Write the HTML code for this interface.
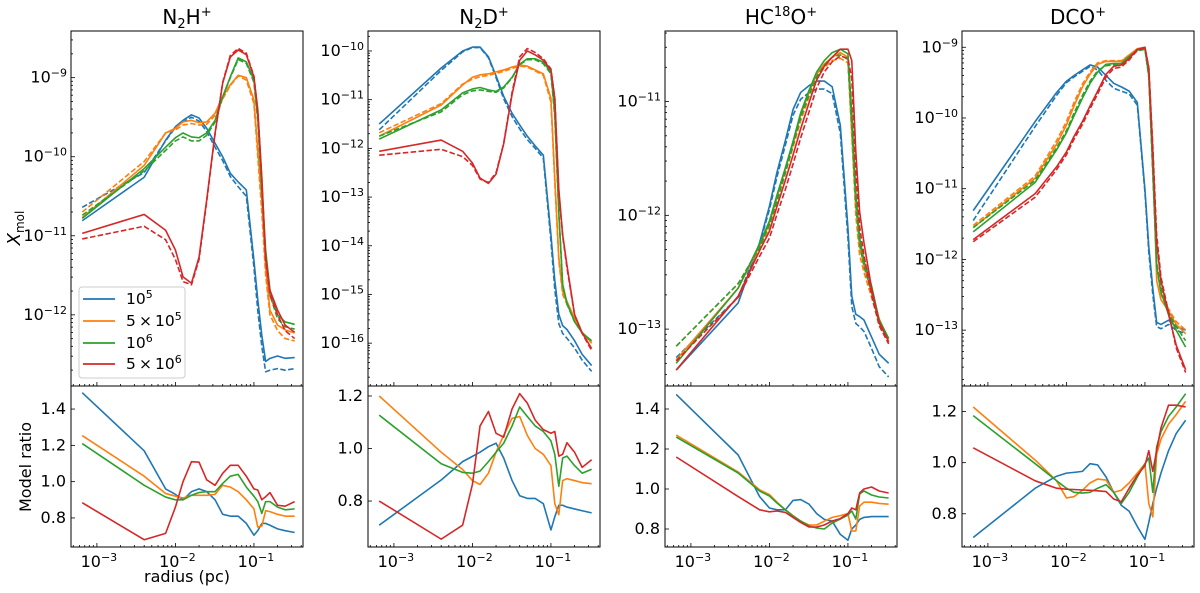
<!DOCTYPE html>
<html><head><meta charset="utf-8"><style>
html,body{margin:0;padding:0;background:#fff;}
svg{display:block;font-family:"DejaVu Sans","Liberation Sans",sans-serif;}
</style></head><body>
<svg id="chart" width="1200" height="593" viewBox="0 0 1200 593" xmlns="http://www.w3.org/2000/svg"></svg>
<script>
// ---- shared radius grid (pc) ----
const radius = [0.00065,0.004,0.0075,0.01,0.0125,0.016,0.02,0.025,0.032,0.04,0.05,0.063,0.08,0.1,0.112,0.126,0.141,0.16,0.2,0.25,0.33];
const seriesLabels = ["1e5","5e5","1e6","5e6"];
const seriesColors = ["#1f77b4","#ff7f0e","#2ca02c","#d62728"];
const panelTitles = ["N2H+","N2D+","HC18O+","DCO+"];

// ---- N2H+ (log10 X_mol) ----
const n2h_solid_1e5 = [-10.81,-10.26,-9.79,-9.62,-9.54,-9.47,-9.51,-9.64,-9.83,-10.0,-10.21,-10.32,-10.42,-11.31,-11.81,-12.26,-12.59,-12.55,-12.52,-12.55,-12.54];
const n2h_solid_5e5 = [-10.77,-10.11,-9.70,-9.64,-9.56,-9.54,-9.57,-9.56,-9.45,-9.24,-9.09,-8.97,-9.0,-9.28,-9.92,-10.55,-11.40,-11.94,-12.13,-12.19,-12.23];
const n2h_solid_1e6 = [-10.78,-10.15,-9.88,-9.76,-9.70,-9.75,-9.76,-9.70,-9.54,-9.24,-8.99,-8.75,-8.80,-9.03,-9.50,-10.38,-11.18,-11.69,-12.0,-12.09,-12.12];
const n2h_solid_5e6 = [-10.97,-10.73,-10.93,-11.18,-11.52,-11.60,-11.27,-10.55,-9.70,-9.07,-8.74,-8.65,-8.71,-8.99,-9.41,-10.26,-11.27,-11.69,-11.94,-12.13,-12.22];
const n2h_dash_1e5 = [-10.64,-10.20,-9.80,-9.63,-9.56,-9.50,-9.55,-9.68,-9.88,-10.05,-10.25,-10.38,-10.50,-11.40,-11.95,-12.40,-12.72,-12.70,-12.68,-12.70,-12.68];
const n2h_dash_5e5 = [-10.70,-10.06,-9.70,-9.66,-9.60,-9.58,-9.60,-9.59,-9.48,-9.27,-9.10,-8.98,-9.03,-9.33,-10.0,-10.7,-11.5,-12.0,-12.2,-12.3,-12.33];
const n2h_dash_1e6 = [-10.74,-10.18,-9.92,-9.80,-9.75,-9.80,-9.80,-9.73,-9.56,-9.25,-9.0,-8.77,-8.82,-9.06,-9.55,-10.45,-11.25,-11.75,-12.05,-12.15,-12.18];
const n2h_dash_5e6 = [-11.04,-10.88,-11.05,-11.30,-11.58,-11.62,-11.30,-10.57,-9.71,-9.06,-8.72,-8.63,-8.69,-8.98,-9.42,-10.3,-11.3,-11.75,-12.0,-12.2,-12.3];
const n2h_ratio_1e5 = [1.49,1.17,0.96,0.93,0.90,0.945,0.96,0.945,0.90,0.82,0.81,0.81,0.77,0.705,0.73,0.77,0.77,0.76,0.74,0.73,0.72];
const n2h_ratio_5e5 = [1.254,1.03,0.935,0.92,0.91,0.925,0.925,0.925,0.93,0.98,0.97,0.945,0.90,0.85,0.75,0.755,0.84,0.835,0.82,0.81,0.81];
const n2h_ratio_1e6 = [1.21,0.98,0.915,0.90,0.90,0.925,0.94,0.945,0.945,0.99,1.03,1.04,0.97,0.92,0.89,0.825,0.89,0.89,0.86,0.845,0.85];
const n2h_ratio_5e6 = [0.884,0.68,0.715,0.86,1.0,1.11,1.107,1.01,0.98,1.046,1.09,1.09,1.03,0.96,0.954,0.90,0.917,0.94,0.87,0.865,0.89];

// ---- N2D+ ----
const n2d_solid_1e5 = [-11.50,-10.35,-10.0,-9.92,-9.92,-10.12,-10.51,-10.93,-11.28,-11.52,-11.75,-11.95,-12.14,-13.77,-14.71,-15.41,-15.64,-15.72,-15.95,-16.23,-16.46];
const n2d_solid_5e5 = [-11.75,-11.11,-10.70,-10.54,-10.49,-10.47,-10.43,-10.39,-10.33,-10.29,-10.31,-10.39,-10.47,-10.97,-12.61,-14.24,-14.94,-15.14,-15.49,-15.78,-15.99];
const n2d_solid_1e6 = [-11.81,-11.21,-10.86,-10.78,-10.75,-10.80,-10.83,-10.74,-10.54,-10.27,-10.16,-10.16,-10.23,-10.43,-11.28,-13.31,-14.79,-15.18,-15.56,-15.79,-15.95];
const n2d_solid_5e6 = [-12.06,-11.83,-12.06,-12.30,-12.61,-12.72,-12.53,-11.91,-10.89,-10.19,-10.0,-10.08,-10.19,-10.39,-10.97,-12.84,-13.77,-14.40,-15.41,-15.79,-16.11];
const n2d_dash_1e5 = [-11.62,-10.40,-10.02,-9.93,-9.93,-10.14,-10.55,-10.98,-11.35,-11.60,-11.82,-12.0,-12.2,-13.9,-14.9,-15.6,-15.8,-15.9,-16.1,-16.35,-16.58];
const n2d_dash_5e5 = [-11.68,-11.08,-10.68,-10.58,-10.53,-10.50,-10.46,-10.42,-10.36,-10.31,-10.33,-10.41,-10.5,-11.05,-12.7,-14.3,-15.0,-15.2,-15.5,-15.8,-16.0];
const n2d_dash_1e6 = [-11.75,-11.25,-10.9,-10.82,-10.8,-10.83,-10.85,-10.76,-10.55,-10.28,-10.18,-10.18,-10.26,-10.47,-11.35,-13.35,-14.8,-15.2,-15.56,-15.79,-15.96];
const n2d_dash_5e6 = [-12.14,-12.02,-12.17,-12.35,-12.63,-12.7,-12.5,-11.9,-10.85,-10.12,-9.95,-10.03,-10.16,-10.37,-10.97,-12.9,-13.8,-14.45,-15.42,-15.8,-16.15];
const n2d_ratio_1e5 = [0.708,0.88,0.95,0.97,0.986,1.007,1.02,0.964,0.878,0.82,0.81,0.81,0.79,0.69,0.74,0.784,0.784,0.777,0.77,0.763,0.755];
const n2d_ratio_5e5 = [1.2,0.986,0.92,0.878,0.863,0.906,0.986,1.05,1.115,1.122,1.05,1.0,0.978,0.935,0.79,0.748,0.878,0.885,0.878,0.87,0.866];
const n2d_ratio_1e6 = [1.127,0.942,0.909,0.906,0.914,0.95,0.986,1.02,1.086,1.158,1.122,1.086,1.065,1.029,0.978,0.856,0.964,0.971,0.935,0.906,0.921];
const n2d_ratio_5e6 = [0.80,0.655,0.708,0.863,1.086,1.141,1.058,1.043,1.151,1.209,1.173,1.108,1.072,1.058,1.065,0.971,0.978,1.022,0.986,0.928,0.957];

// ---- HC18O+ ----
const hco_solid_1e5 = [-13.36,-12.77,-12.24,-11.92,-11.62,-11.34,-11.07,-10.92,-10.86,-10.82,-10.82,-10.87,-11.21,-12.11,-12.71,-12.87,-12.89,-12.92,-13.07,-13.22,-13.30];
const hco_solid_5e5 = [-13.27,-12.64,-12.27,-12.07,-11.84,-11.59,-11.37,-11.12,-10.92,-10.76,-10.67,-10.61,-10.57,-10.61,-11.27,-11.91,-12.27,-12.44,-12.67,-12.91,-13.09];
const hco_solid_1e6 = [-13.3,-12.64,-12.25,-12.05,-11.82,-11.58,-11.35,-11.10,-10.90,-10.74,-10.64,-10.57,-10.54,-10.58,-11.1,-11.8,-12.2,-12.4,-12.62,-12.92,-13.08];
const hco_solid_5e6 = [-13.36,-12.71,-12.31,-12.14,-11.92,-11.69,-11.47,-11.24,-11.01,-10.81,-10.69,-10.61,-10.54,-10.54,-10.64,-11.44,-11.97,-12.24,-12.64,-12.94,-13.11];
const hco_dash_1e5 = [-13.25,-12.72,-12.25,-11.95,-11.66,-11.38,-11.12,-10.98,-10.92,-10.89,-10.89,-10.93,-11.28,-12.2,-12.8,-12.95,-12.98,-13.02,-13.17,-13.33,-13.42];
const hco_dash_5e5 = [-13.15,-12.6,-12.3,-12.1,-11.88,-11.63,-11.40,-11.17,-10.96,-10.80,-10.70,-10.64,-10.62,-10.66,-11.3,-12.0,-12.35,-12.5,-12.72,-12.95,-13.12];
const hco_dash_1e6 = [-13.15,-12.6,-12.28,-12.08,-11.87,-11.62,-11.38,-11.14,-10.94,-10.78,-10.68,-10.61,-10.59,-10.63,-11.2,-11.9,-12.25,-12.45,-12.68,-12.95,-13.1];
const hco_dash_5e6 = [-13.28,-12.72,-12.36,-12.2,-11.99,-11.77,-11.55,-11.32,-11.09,-10.88,-10.74,-10.65,-10.6,-10.62,-10.8,-11.6,-12.1,-12.35,-12.7,-12.97,-13.13];
const hco_ratio_1e5 = [1.473,1.17,0.962,0.905,0.896,0.896,0.943,0.947,0.924,0.877,0.848,0.839,0.773,0.744,0.80,0.82,0.848,0.858,0.862,0.862,0.862];
const hco_ratio_5e5 = [1.27,1.085,0.996,0.972,0.934,0.896,0.867,0.839,0.82,0.82,0.839,0.858,0.867,0.877,0.79,0.79,0.915,0.934,0.934,0.928,0.924];
const hco_ratio_1e6 = [1.26,1.08,0.99,0.965,0.93,0.895,0.865,0.84,0.815,0.805,0.80,0.83,0.85,0.87,0.89,0.85,0.975,0.99,0.97,0.96,0.955];
const hco_ratio_5e6 = [1.16,0.962,0.896,0.886,0.89,0.883,0.858,0.833,0.81,0.81,0.82,0.84,0.852,0.877,0.905,0.896,0.98,1.0,1.01,0.99,0.98];

// ---- DCO+ ----
const dco_solid_1e5 = [-11.31,-10.05,-9.64,-9.48,-9.40,-9.32,-9.25,-9.28,-9.40,-9.51,-9.56,-9.62,-9.78,-11.01,-11.82,-12.41,-12.89,-12.92,-12.86,-12.95,-13.0];
const dco_solid_5e5 = [-11.55,-10.85,-10.37,-10.10,-9.83,-9.56,-9.38,-9.24,-9.2,-9.2,-9.2,-9.11,-9.02,-9.0,-9.30,-10.48,-12.30,-12.57,-12.73,-12.92,-13.05];
const dco_solid_1e6 = [-11.61,-10.91,-10.45,-10.21,-9.97,-9.72,-9.51,-9.35,-9.24,-9.23,-9.23,-9.13,-9.04,-9.02,-9.40,-10.74,-12.09,-12.46,-12.78,-13.0,-13.24];
const dco_solid_5e6 = [-11.72,-11.07,-10.69,-10.48,-10.26,-10.05,-9.83,-9.62,-9.38,-9.27,-9.25,-9.16,-9.03,-9.0,-9.30,-10.48,-11.76,-12.30,-12.78,-13.21,-13.56];
const dco_dash_1e5 = [-11.45,-10.12,-9.68,-9.5,-9.42,-9.34,-9.27,-9.32,-9.47,-9.58,-9.62,-9.66,-9.82,-11.05,-11.9,-12.5,-12.95,-12.98,-12.92,-13.0,-13.05];
const dco_dash_5e5 = [-11.52,-10.82,-10.32,-10.05,-9.78,-9.52,-9.35,-9.22,-9.19,-9.19,-9.19,-9.11,-9.03,-9.01,-9.35,-10.6,-12.1,-12.5,-12.7,-12.88,-13.0];
const dco_dash_1e6 = [-11.55,-10.88,-10.42,-10.18,-9.93,-9.68,-9.48,-9.33,-9.26,-9.25,-9.25,-9.15,-9.05,-9.03,-9.42,-10.8,-12.05,-12.4,-12.75,-12.95,-13.15];
const dco_dash_5e6 = [-11.75,-11.12,-10.73,-10.52,-10.3,-10.09,-9.87,-9.66,-9.42,-9.3,-9.28,-9.18,-9.04,-9.01,-9.28,-10.4,-11.65,-12.25,-12.75,-13.25,-13.6];
const dco_ratio_1e5 = [0.707,0.90,0.947,0.959,0.962,0.966,0.996,0.991,0.944,0.884,0.833,0.81,0.75,0.70,0.766,0.84,0.90,0.959,1.047,1.114,1.166];
const dco_ratio_5e5 = [1.218,1.01,0.929,0.862,0.867,0.892,0.921,0.936,0.932,0.884,0.892,0.921,0.959,0.996,0.84,0.788,1.033,1.092,1.151,1.188,1.24];
const dco_ratio_1e6 = [1.184,0.996,0.929,0.9,0.884,0.881,0.884,0.90,0.914,0.884,0.84,0.884,0.944,0.996,1.018,0.884,1.062,1.121,1.181,1.218,1.27];
const dco_ratio_5e6 = [1.058,0.929,0.9,0.896,0.895,0.893,0.892,0.89,0.887,0.858,0.847,0.9,0.951,0.988,1.047,0.966,1.047,1.136,1.225,1.225,1.218];

// ---- axis tick settings ----
const xMajorExps = [-3,-2,-1];
const yMajorExps = [[-12,-11,-10,-9],[-16,-15,-14,-13,-12,-11,-10],[-13,-12,-11],[-13,-12,-11,-10,-9]];
const ratioTicks = [[0.8,1.0,1.2,1.4],[0.8,1.0,1.2],[0.8,1.0,1.2,1.4],[0.8,1.0,1.2]];

const solidSets = [[n2h_solid_1e5,n2h_solid_5e5,n2h_solid_1e6,n2h_solid_5e6],[n2d_solid_1e5,n2d_solid_5e5,n2d_solid_1e6,n2d_solid_5e6],[hco_solid_1e5,hco_solid_5e5,hco_solid_1e6,hco_solid_5e6],[dco_solid_1e5,dco_solid_5e5,dco_solid_1e6,dco_solid_5e6]];
const dashSets = [[n2h_dash_1e5,n2h_dash_5e5,n2h_dash_1e6,n2h_dash_5e6],[n2d_dash_1e5,n2d_dash_5e5,n2d_dash_1e6,n2d_dash_5e6],[hco_dash_1e5,hco_dash_5e5,hco_dash_1e6,hco_dash_5e6],[dco_dash_1e5,dco_dash_5e5,dco_dash_1e6,dco_dash_5e6]];
const ratioSets = [[n2h_ratio_1e5,n2h_ratio_5e5,n2h_ratio_1e6,n2h_ratio_5e6],[n2d_ratio_1e5,n2d_ratio_5e5,n2d_ratio_1e6,n2d_ratio_5e6],[hco_ratio_1e5,hco_ratio_5e5,hco_ratio_1e6,hco_ratio_5e6],[dco_ratio_1e5,dco_ratio_5e5,dco_ratio_1e6,dco_ratio_5e6]];

// ---- layout ----
const NS = "http://www.w3.org/2000/svg";
const svg = document.getElementById("chart");
const panelLeft = [71,368,665,962];
const panelW = 232, topY = 31, midY = 386, botY = 547;
const xLogMin = -3.33, xLogMax = -0.375;
const yLogRange = [[-12.90,-8.41],[-16.88,-9.59],[-13.5,-10.38],[-13.79,-8.77]];
const ratioRange = [[0.64,1.527],[0.625,1.238],[0.71,1.515],[0.67,1.30]];

function el(tag, attrs, parent){
  const e = document.createElementNS(NS, tag);
  for (const k in attrs) e.setAttribute(k, attrs[k]);
  (parent||svg).appendChild(e);
  return e;
}
function xScale(p, r){ return panelLeft[p] + (Math.log10(r) - xLogMin)/(xLogMax - xLogMin)*panelW; }
function xScaleLog(p, lg){ return panelLeft[p] + (lg - xLogMin)/(xLogMax - xLogMin)*panelW; }
function yTop(p, lg){ const [a,b]=yLogRange[p]; return midY - (lg - a)/(b - a)*(midY - topY); }
function yBot(p, v){ const [a,b]=ratioRange[p]; return botY - (v - a)/(b - a)*(botY - midY); }

function powLabel(parent, x, y, exp, anchor){
  const t = el("text", {x:x, y:y, "font-size":"16", "text-anchor":anchor, fill:"#000"}, parent);
  
  
  const a = document.createElementNS(NS,"tspan"); a.textContent = "10"; t.appendChild(a);
  const b = document.createElementNS(NS,"tspan"); b.setAttribute("font-size","11"); b.setAttribute("dy","-6"); b.textContent = "\u2212" + Math.abs(exp); t.appendChild(b);
  return t;
}

function drawPath(parent, pts, color, dashed, name){
  const d = pts.map((q,i)=>(i?"L":"M")+q[0].toFixed(2)+","+q[1].toFixed(2)).join(" ");
  const p = el("path", {d:d, fill:"none", stroke:color, "stroke-width":"1.6", "stroke-linejoin":"round"}, parent);
  if (dashed) p.setAttribute("stroke-dasharray","5.5,2.4");
  
  
}

for (let p = 0; p < 4; p++){
  const g = el("g", {});
  
  
  const L = panelLeft[p], R = L + panelW;
  const cid = "clipT"+p, cid2 = "clipB"+p;
  const cp = el("clipPath", {id:cid}, g); el("rect",{x:L,y:topY,width:panelW,height:midY-topY},cp);
  const cp2 = el("clipPath", {id:cid2}, g); el("rect",{x:L,y:midY,width:panelW,height:botY-midY},cp2);

  const gt = el("g", {"clip-path":"url(#"+cid+")"}, g);
  
  
  for (let s = 0; s < 4; s++){
    drawPath(gt, radius.map((r,i)=>[xScale(p,r), yTop(p, dashSets[p][s][i])]), seriesColors[s], true, "dashed-line-" + seriesLabels[s]);
    drawPath(gt, radius.map((r,i)=>[xScale(p,r), yTop(p, solidSets[p][s][i])]), seriesColors[s], false, "solid-line-" + seriesLabels[s]);
  }
  const gb = el("g", {"clip-path":"url(#"+cid2+")"}, g);
  
  
  for (let s = 0; s < 4; s++){
    drawPath(gb, radius.map((r,i)=>[xScale(p,r), yBot(p, ratioSets[p][s][i])]), seriesColors[s], false, "ratio-line-" + seriesLabels[s]);
  }

  const f1 = el("rect", {x:L, y:topY, width:panelW, height:midY-topY, fill:"none", stroke:"#000", "stroke-width":"1"}, g);
   
  const f2 = el("rect", {x:L, y:midY, width:panelW, height:botY-midY, fill:"none", stroke:"#000", "stroke-width":"1"}, g);
   

  for (let e = -4; e <= 0; e++){
    for (let k = 1; k <= 9; k++){
      const lg = e + Math.log10(k);
      if (lg < xLogMin || lg > xLogMax) continue;
      const x = xScaleLog(p, lg);
      const len = (k===1) ? 4 : 2;
      el("line",{x1:x,y1:midY,x2:x,y2:midY-len,stroke:"#000","stroke-width":"0.8"},g);
      el("line",{x1:x,y1:botY,x2:x,y2:botY-len,stroke:"#000","stroke-width":"0.8"},g);
    }
  }
  xMajorExps.forEach(e=>{ powLabel(g, xScaleLog(p,e)+2, botY+20, e, "middle"); });

  const [ya,yb] = yLogRange[p];
  for (let e = Math.floor(ya); e <= Math.ceil(yb); e++){
    for (let k = 1; k <= 9; k++){
      const lg = e + Math.log10(k);
      if (lg < ya || lg > yb) continue;
      const y = yTop(p, lg);
      const len = (k===1) ? 4 : 2;
      el("line",{x1:L,y1:y,x2:L+len,y2:y,stroke:"#000","stroke-width":"0.8"},g);
    }
  }
  yMajorExps[p].forEach(e=>{ powLabel(g, L-4, yTop(p,e)+5, e, "end"); });

  ratioTicks[p].forEach(v=>{
    const y = yBot(p, v);
    el("line",{x1:L,y1:y,x2:L+4,y2:y,stroke:"#000","stroke-width":"0.8"},g);
    const t = el("text",{x:L-5,y:y+5,"font-size":"16","text-anchor":"end",fill:"#000"},g);
    t.textContent = v.toFixed(1);
    
    
  });
}

function title(cx, parts){
  const t = el("text",{x:cx, y:24, "font-size":"20", "text-anchor":"middle", fill:"#000"});
  
  
  parts.forEach(pt=>{
    const s = document.createElementNS(NS,"tspan");
    s.textContent = pt[0];
    if (pt[1]==="sub"){ s.setAttribute("font-size","13"); s.setAttribute("dy","4"); }
    else if (pt[1]==="sup"){ s.setAttribute("font-size","13"); s.setAttribute("dy","-8"); }
    else if (pt[1]==="back"){ s.setAttribute("dy","-4"); }
    else if (pt[1]==="backup"){ s.setAttribute("dy","8"); }
    t.appendChild(s);
  });
}
title(187, [["N"],["2","sub"],["H","back"],["+","sup"]]);
title(484, [["N"],["2","sub"],["D","back"],["+","sup"]]);
title(781, [["HC"],["18","sup"],["O","backup"],["+","sup"]]);
title(1078, [["DCO"],["+","sup"]]);

const yl = el("text",{x:0,y:0,"font-size":"18","text-anchor":"middle",fill:"#000",transform:"translate(20,228) rotate(-90)"});


const y1 = document.createElementNS(NS,"tspan"); y1.setAttribute("font-style","italic"); y1.textContent="X"; yl.appendChild(y1);
const y2 = document.createElementNS(NS,"tspan"); y2.setAttribute("font-size","12"); y2.setAttribute("dy","4"); y2.textContent="mol"; yl.appendChild(y2);

const rl = el("text",{x:0,y:0,"font-size":"16","text-anchor":"middle",fill:"#000",transform:"translate(31,467) rotate(-90)"});
rl.textContent = "Model ratio";



const xl = el("text",{x:187,y:582,"font-size":"16","text-anchor":"middle",fill:"#000"});
xl.textContent = "radius (pc)";



const lg = el("g",{});


el("rect",{x:79,y:287,width:106,height:91,rx:3,fill:"#fff","fill-opacity":"0.85",stroke:"#ccc","stroke-width":"1"},lg);
const legendY = [299,321,343,364];
const legendExp = ["5","5","6","6"];
const legendPre = ["","5\u2009\u00d7\u2009","","5\u2009\u00d7\u2009"];
for (let s = 0; s < 4; s++){
  const ln = el("line",{x1:83,y1:legendY[s],x2:115,y2:legendY[s],stroke:seriesColors[s],"stroke-width":"1.8"},lg);
  
  
  const t = el("text",{x:126,y:legendY[s]+5,"font-size":"15.5",fill:"#000"},lg);
  
  
  const a = document.createElementNS(NS,"tspan"); a.textContent = legendPre[s] + "10"; t.appendChild(a);
  const b = document.createElementNS(NS,"tspan"); b.setAttribute("font-size","11"); b.setAttribute("dy","-6"); b.textContent = legendExp[s]; t.appendChild(b);
}
</script>
</body></html>
